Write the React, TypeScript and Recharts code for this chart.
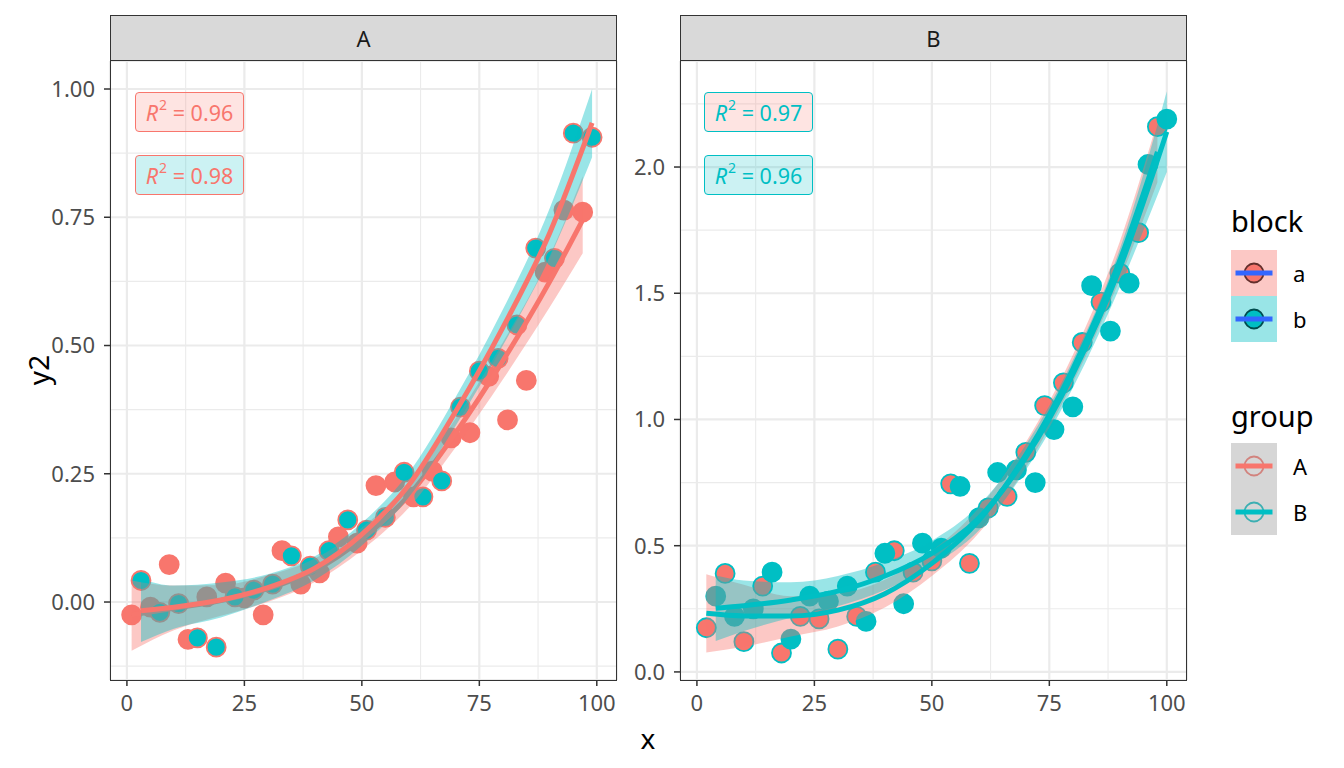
import React from 'react';
import {
  ComposedChart, Scatter, Line, Area, XAxis, YAxis, CartesianGrid, ReferenceLine,
} from 'recharts';

const FONT = '"Noto Sans", "Open Sans", sans-serif';
const SALMON = '#F8766D';
const CYAN = '#00BFC4';

// ---------- x ticks (shared) ----------
const xTicks = [0, 25, 50, 75, 100];
const xMinor = [12.5, 37.5, 62.5, 87.5];

// ---------- Panel A ----------
const aTicksY = [0, 0.25, 0.5, 0.75, 1.0];
const aMinorY = [-0.125, 0.125, 0.375, 0.625, 0.875];

const A_a_x = [1, 5, 9, 13, 17, 21, 25, 29, 33, 37, 41, 45, 49, 53, 57, 61, 65, 69, 73, 77, 81, 85, 89, 93, 97];
const A_a_y = [-0.025, -0.01, 0.073, -0.073, 0.01, 0.037, 0.008, -0.025, 0.1, 0.035, 0.057, 0.127, 0.115, 0.227, 0.234, 0.205, 0.255, 0.32, 0.33, 0.44, 0.355, 0.432, 0.643, 0.764, 0.76];
const A_b_x = [3, 7, 11, 15, 19, 23, 27, 31, 35, 39, 43, 47, 51, 55, 59, 63, 67, 71, 75, 79, 83, 87, 91, 95, 99];
const A_b_y = [0.042, -0.02, -0.003, -0.07, -0.088, 0.01, 0.023, 0.035, 0.09, 0.07, 0.1, 0.16, 0.14, 0.165, 0.253, 0.205, 0.236, 0.38, 0.45, 0.475, 0.54, 0.69, 0.67, 0.914, 0.906];

const A_a_fitX = [1, 10, 20, 30, 40, 50, 60, 70, 80, 90, 97];
const A_a_fit = [-0.025, -0.012, 0.003, 0.026, 0.062, 0.123, 0.208, 0.33, 0.47, 0.625, 0.745];
const A_a_low = [-0.095, -0.055, -0.027, 0.0, 0.039, 0.101, 0.184, 0.302, 0.434, 0.575, 0.68];
const A_a_high = [0.042, 0.032, 0.033, 0.052, 0.085, 0.145, 0.232, 0.358, 0.506, 0.675, 0.83];

const A_b_fitX = [3, 10, 20, 30, 40, 50, 60, 70, 80, 90, 99];
const A_b_fit = [-0.017, -0.01, 0.004, 0.028, 0.066, 0.132, 0.228, 0.372, 0.535, 0.72, 0.934];
const A_b_low = [-0.078, -0.052, -0.03, 0.002, 0.043, 0.11, 0.204, 0.344, 0.5, 0.672, 0.867];
const A_b_high = [0.045, 0.032, 0.038, 0.054, 0.089, 0.154, 0.252, 0.4, 0.57, 0.768, 1.0];

// ---------- Panel B ----------
const bTicksY = [0, 0.5, 1.0, 1.5, 2.0];
const bMinorY = [0.25, 0.75, 1.25, 1.75, 2.25];

const B_a_x = [2, 6, 10, 14, 18, 22, 26, 30, 34, 38, 42, 46, 50, 54, 58, 62, 66, 70, 74, 78, 82, 86, 90, 94, 98];
const B_a_y = [0.175, 0.39, 0.12, 0.34, 0.075, 0.22, 0.21, 0.09, 0.22, 0.395, 0.48, 0.395, 0.44, 0.745, 0.43, 0.65, 0.695, 0.87, 1.055, 1.145, 1.305, 1.465, 1.58, 1.74, 2.16];
const B_b_x = [4, 8, 12, 16, 20, 24, 28, 32, 36, 40, 44, 48, 52, 56, 60, 64, 68, 72, 76, 80, 84, 88, 92, 96, 100];
const B_b_y = [0.3, 0.22, 0.25, 0.395, 0.13, 0.3, 0.28, 0.34, 0.2, 0.47, 0.27, 0.51, 0.49, 0.735, 0.61, 0.79, 0.8, 0.75, 0.96, 1.05, 1.53, 1.35, 1.54, 2.01, 2.19];

const B_a_fitX = [2, 10, 20, 30, 40, 50, 60, 70, 80, 90, 98];
const B_a_fit = [0.232, 0.222, 0.222, 0.245, 0.31, 0.43, 0.6, 0.86, 1.2, 1.63, 2.06];
const B_a_low = [0.077, 0.1, 0.14, 0.18, 0.255, 0.38, 0.55, 0.81, 1.145, 1.555, 1.94];
const B_a_high = [0.387, 0.345, 0.3, 0.31, 0.365, 0.48, 0.65, 0.91, 1.255, 1.705, 2.18];

const B_b_fitX = [4, 10, 20, 30, 40, 50, 60, 70, 80, 90, 100];
const B_b_fit = [0.252, 0.262, 0.285, 0.32, 0.38, 0.47, 0.61, 0.85, 1.18, 1.6, 2.14];
const B_b_low = [0.122, 0.162, 0.215, 0.26, 0.325, 0.42, 0.56, 0.8, 1.125, 1.525, 1.98];
const B_b_high = [0.382, 0.362, 0.355, 0.38, 0.435, 0.52, 0.66, 0.9, 1.235, 1.675, 2.3];

// ---------- labels ----------
const r2A = ['0.96', '0.98'];
const r2B = ['0.97', '0.96'];
const blockLevels = ['a', 'b'];
const groupLevels = ['A', 'B'];

const toPts = (xs: number[], ys: number[]) => xs.map((x, i) => ({ x, y: ys[i] }));
const toFit = (xs: number[], f: number[], lo: number[], hi: number[]) =>
  xs.map((x, i) => ({ x, y: f[i], range: [lo[i], hi[i]] }));

const makeDot = (fill: string, stroke: string) => (props: any) => {
  if (props.cx == null || props.cy == null) return <g />;
  return <circle cx={props.cx} cy={props.cy} r={9.5} fill={fill} stroke={stroke} strokeWidth={1.8} />;
};

type PanelProps = {
  left: number; width: number; yAxisWidth: number;
  yDomain: [number, number]; yTicks: number[]; yMinor: number[]; digits: number;
  groupColor: string;
  aPts: any[]; bPts: any[]; aFit: any[]; bFit: any[];
};

function Panel(p: PanelProps) {
  const tickStyle = { fill: '#4D4D4D', fontSize: 22, fontFamily: FONT };
  return (
    <div style={{ position: 'absolute', left: p.left, top: 61 }}>
      <ComposedChart width={p.width} height={664} margin={{ top: 0, right: 1, left: 0, bottom: 0 }}>
        <XAxis type="number" dataKey="x" domain={[-3.6, 104.3]} allowDataOverflow ticks={xTicks}
          tick={tickStyle} tickSize={6} tickMargin={9} height={45}
          tickLine={{ stroke: '#333333', strokeWidth: 1.5 }} axisLine={false} />
        <YAxis type="number" dataKey="y" domain={p.yDomain} allowDataOverflow ticks={p.yTicks}
          tick={tickStyle} tickSize={6} tickMargin={9} width={p.yAxisWidth}
          tickFormatter={(v: number) => v.toFixed(p.digits)}
          tickLine={{ stroke: '#333333', strokeWidth: 1.5 }} axisLine={false} />
        <CartesianGrid stroke="#EBEBEB" strokeWidth={2.2} zIndex={-100} />
        {xMinor.map((v) => (
          <ReferenceLine key={'vx' + v} x={v} stroke="#EBEBEB" strokeWidth={1.1} zIndex={-99} />
        ))}
        {p.yMinor.map((v) => (
          <ReferenceLine key={'hy' + v} y={v} stroke="#EBEBEB" strokeWidth={1.1} zIndex={-99} />
        ))}
        <Scatter data={p.aPts} dataKey="y" shape={makeDot(SALMON, p.groupColor)} isAnimationActive={false} zIndex={100} />
        <Scatter data={p.bPts} dataKey="y" shape={makeDot(CYAN, p.groupColor)} isAnimationActive={false} zIndex={101} />
        <Area data={p.aFit} dataKey="range" type="monotone" fill={SALMON} fillOpacity={0.4} stroke="none"
          isAnimationActive={false} zIndex={200} />
        <Line data={p.aFit} dataKey="y" type="monotone" stroke={p.groupColor} strokeWidth={5} dot={false}
          isAnimationActive={false} zIndex={300} />
        <Area data={p.bFit} dataKey="range" type="monotone" fill={CYAN} fillOpacity={0.4} stroke="none"
          isAnimationActive={false} zIndex={400} />
        <Line data={p.bFit} dataKey="y" type="monotone" stroke={p.groupColor} strokeWidth={5} dot={false}
          isAnimationActive={false} zIndex={500} />
      </ComposedChart>
    </div>
  );
}

function Strip({ left, text }: { left: number; text: string }) {
  return (
    <div style={{
      position: 'absolute', left, top: 15, width: 507, height: 46, boxSizing: 'border-box',
      background: '#D9D9D9', border: '1.5px solid #333333', display: 'flex', alignItems: 'center',
      justifyContent: 'center', fontFamily: FONT, fontSize: 22, color: '#1A1A1A',
    }}>{text}</div>
  );
}

function Border({ left }: { left: number }) {
  return (
    <div style={{
      position: 'absolute', left, top: 60, width: 507, height: 621, boxSizing: 'border-box',
      border: '1.5px solid #333333', pointerEvents: 'none',
    }} />
  );
}

function R2Box({ left, top, fill, color, value }: { left: number; top: number; fill: string; color: string; value: string }) {
  return (
    <div style={{
      position: 'absolute', left, top, width: 109, height: 40, boxSizing: 'border-box',
      background: fill, border: `1.2px solid ${color}`, borderRadius: 4, color,
      fontFamily: FONT, fontSize: 21.5, display: 'flex', alignItems: 'center', justifyContent: 'center',
      whiteSpace: 'nowrap',
    }}>
      <span style={{ fontStyle: 'italic' }}>R</span>
      <span style={{ fontSize: 14, position: 'relative', top: -8, marginLeft: 1 }}>2</span>
      <span>&nbsp;= {value}</span>
    </div>
  );
}

function LegendKey({ y, bg, bgOpacity, dotFill, dotStroke, lineColor }: any) {
  return (
    <g transform={`translate(1231, ${y})`}>
      <rect x={0} y={0} width={46} height={46} fill="#FFFFFF" />
      <circle cx={23} cy={23} r={9.5} fill={dotFill} stroke={dotStroke} strokeWidth={1.8} />
      <rect x={0} y={0} width={46} height={46} fill={bg} fillOpacity={bgOpacity} />
      <line x1={4.5} x2={41.5} y1={23} y2={23} stroke={lineColor} strokeWidth={5} />
    </g>
  );
}

export default function App() {
  const aPtsA = toPts(A_a_x, A_a_y);
  const bPtsA = toPts(A_b_x, A_b_y);
  const aPtsB = toPts(B_a_x, B_a_y);
  const bPtsB = toPts(B_b_x, B_b_y);
  return (
    <div style={{ position: 'absolute', left: 0, top: 0, width: 1344, height: 768, background: '#FFFFFF', overflow: 'hidden' }}>
      <Panel left={0} width={618} yAxisWidth={110} yDomain={[-0.152, 1.0546]} yTicks={aTicksY} yMinor={aMinorY}
        digits={2} groupColor={SALMON} aPts={aPtsA} bPts={bPtsA}
        aFit={toFit(A_a_fitX, A_a_fit, A_a_low, A_a_high)} bFit={toFit(A_b_fitX, A_b_fit, A_b_low, A_b_high)} />
      <Panel left={618} width={570} yAxisWidth={62} yDomain={[-0.032, 2.42]} yTicks={bTicksY} yMinor={bMinorY}
        digits={1} groupColor={CYAN} aPts={aPtsB} bPts={bPtsB}
        aFit={toFit(B_a_fitX, B_a_fit, B_a_low, B_a_high)} bFit={toFit(B_b_fitX, B_b_fit, B_b_low, B_b_high)} />
      <Border left={110} />
      <Border left={680} />
      <Strip left={110} text="A" />
      <Strip left={680} text="B" />
      <R2Box left={135} top={92} fill="rgba(248,118,109,0.2)" color={SALMON} value={r2A[0]} />
      <R2Box left={135} top={155} fill="rgba(0,191,196,0.2)" color={SALMON} value={r2A[1]} />
      <R2Box left={704} top={92} fill="rgba(248,118,109,0.2)" color={CYAN} value={r2B[0]} />
      <R2Box left={704} top={155} fill="rgba(0,191,196,0.2)" color={CYAN} value={r2B[1]} />
      <svg width={1344} height={768} style={{ position: 'absolute', left: 0, top: 0, pointerEvents: 'none' }}>
        <text x={648} y={738} textAnchor="middle" dominantBaseline="central" fontFamily={FONT} fontSize={28} fill="#000">x</text>
        <text transform="translate(38,370) rotate(-90)" textAnchor="middle" dominantBaseline="central" fontFamily={FONT} fontSize={28} fill="#000">y2</text>
        <text x={1231} y={232} fontFamily={FONT} fontSize={29} fill="#000">block</text>
        <LegendKey y={250} bg={SALMON} bgOpacity={0.4} dotFill={SALMON} dotStroke="#000000" lineColor="#3366FF" />
        <LegendKey y={296} bg={CYAN} bgOpacity={0.4} dotFill={CYAN} dotStroke="#000000" lineColor="#3366FF" />
        <text x={1293} y={273} dominantBaseline="central" fontFamily={FONT} fontSize={22} fill="#000">{blockLevels[0]}</text>
        <text x={1293} y={319} dominantBaseline="central" fontFamily={FONT} fontSize={22} fill="#000">{blockLevels[1]}</text>
        <text x={1231} y={427} fontFamily={FONT} fontSize={29} fill="#000">group</text>
        <LegendKey y={443} bg="#999999" bgOpacity={0.4} dotFill="none" dotStroke={SALMON} lineColor={SALMON} />
        <LegendKey y={489} bg="#999999" bgOpacity={0.4} dotFill="none" dotStroke={CYAN} lineColor={CYAN} />
        <text x={1293} y={466} dominantBaseline="central" fontFamily={FONT} fontSize={22} fill="#000">{groupLevels[0]}</text>
        <text x={1293} y={512} dominantBaseline="central" fontFamily={FONT} fontSize={22} fill="#000">{groupLevels[1]}</text>
      </svg>
    </div>
  );
}
